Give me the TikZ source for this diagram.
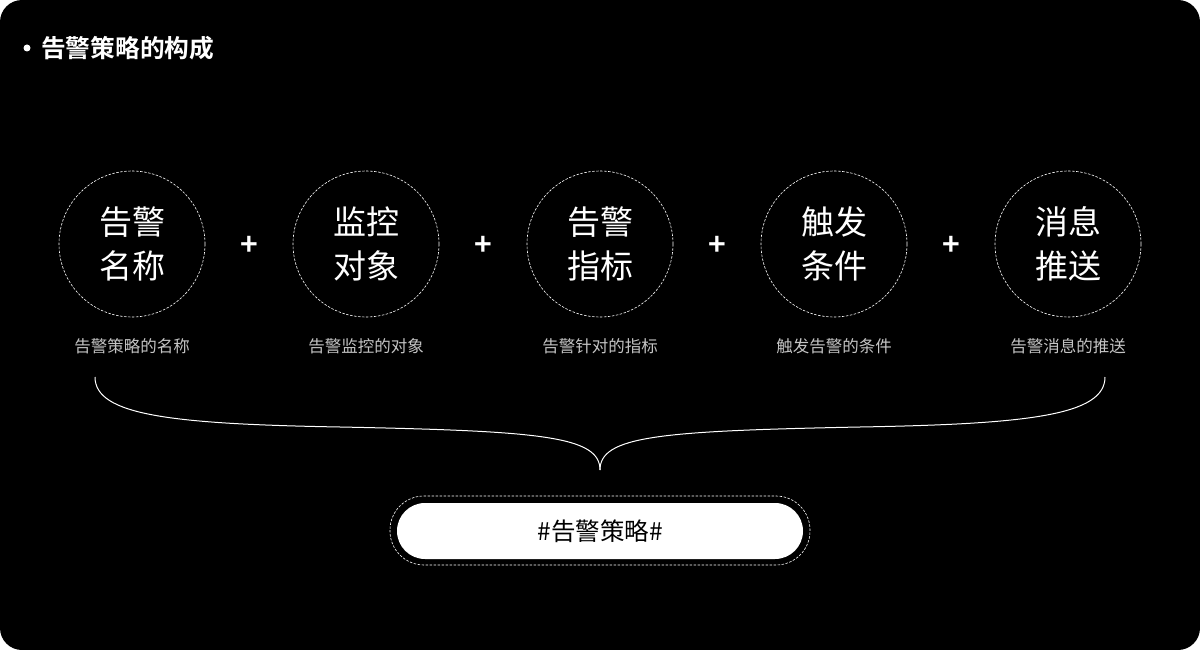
\documentclass[tikz,border=0pt]{standalone}
\usepackage{fontspec}
\setmainfont{Noto Sans CJK SC}[BoldFont={* Bold}]
\definecolor{subgray}{HTML}{C4C4C4}
\begin{document}
\begin{tikzpicture}[x=1pt,y=-1pt,
  ring/.style={circle,draw=white,line width=0.6pt,dash pattern=on 2.5pt off 1.5pt,minimum size=146pt,inner sep=0pt,text=white,font=\fontsize{33}{44}\selectfont,align=center},
  plus/.style={text=white,font=\bfseries\fontsize{30}{30}\selectfont},
  sub/.style={text=subgray,font=\fontsize{16.5}{16.5}\selectfont},
  brace/.style={draw=white,line width=1pt}]
\useasboundingbox (0,0) rectangle (1200,650);
\fill[white] (0,0) rectangle (1200,650);
\fill[black,rounded corners=22pt] (0,0) rectangle (1200,650);
% title
\fill[white] (27,48) circle (3.5pt);
\node[anchor=west,text=white,font=\bfseries\fontsize{24.7}{24.7}\selectfont,inner sep=0pt] (title) at (41,48) {告警策略的构成};
% circles
\node[ring] (c1) at (132,244) {告警\\名称};
\node[ring] (c2) at (366,244) {监控\\对象};
\node[ring] (c3) at (600,244) {告警\\指标};
\node[ring] (c4) at (834,244) {触发\\条件};
\node[ring] (c5) at (1068,244) {消息\\推送};
\node[plus] (p1) at (249,246) {+};
\node[plus] (p2) at (483,246) {+};
\node[plus] (p3) at (717,246) {+};
\node[plus] (p4) at (951,246) {+};
\node[sub] (s1) at (132,346) {告警策略的名称};
\node[sub] (s2) at (366,346) {告警监控的对象};
\node[sub] (s3) at (600,346) {告警针对的指标};
\node[sub] (s4) at (834,346) {触发告警的条件};
\node[sub] (s5) at (1068,346) {告警消息的推送};
% brace
\coordinate (bl) at (95,377);
\coordinate (br) at (1105,377);
\coordinate (bt) at (600,470);
\draw[brace] (bl) .. controls (95,415) and (170,424) .. (340,427)
  .. controls (540,431) and (600,436) .. (bt);
\draw[brace] (br) .. controls (1105,415) and (1030,424) .. (860,427)
  .. controls (660,431) and (600,436) .. (bt);
% pill
\draw[white,line width=0.6pt,dash pattern=on 2.5pt off 1.5pt,rounded corners=34pt] (390,496) rectangle (810,565);
\node[fill=white,rounded corners=28pt,minimum width=406pt,minimum height=56pt,inner sep=0pt,text=black,font=\fontsize{24.5}{24.5}\selectfont] (pill) at (600,531) {\#告警策略\#};
\end{tikzpicture}
\end{document}
